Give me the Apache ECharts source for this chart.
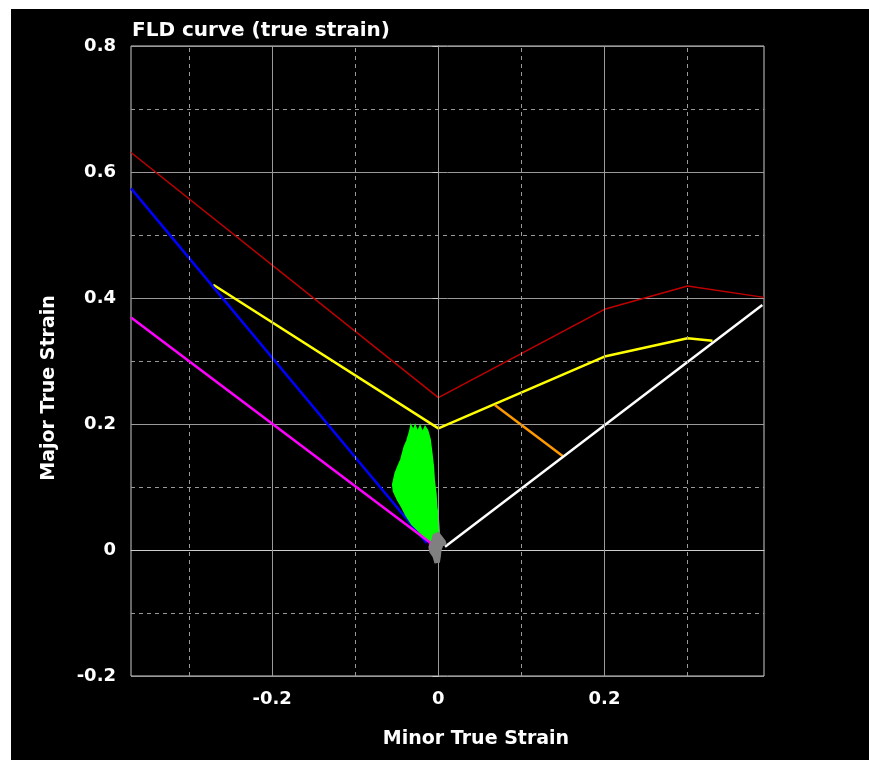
<!DOCTYPE html>
<html>
<head>
<meta charset="utf-8" />
<title>FLD curve</title>
<style>
  html, body { margin: 0; padding: 0; background: #ffffff; }
  #main { position: absolute; left: 11px; top: 9px; width: 858px; height: 751px; background: #000000; }
</style>
</head>
<body>
<div id="main"></div>
<script src="https://cdn.jsdelivr.net/npm/echarts@6/dist/echarts.min.js"></script>
<script>
// axis labels / grid positions
var xTicks = [-0.2, 0, 0.2];
var xMinorLines = [-0.3, -0.1, 0.1, 0.3];

// curves, [minor, major]
var redLimit = [[-0.37, 0.631], [0, 0.242], [0.2, 0.382], [0.3, 0.419], [0.392, 0.401]];
var yellowFld = [[-0.271, 0.421], [0, 0.193], [0.2, 0.307], [0.3, 0.336], [0.309, 0.335], [0.33, 0.332]];
var orangeLine = [[0.068, 0.23], [0.15, 0.149]];
var whiteLine = [[0.008, 0.005], [0.39, 0.389]];
var blueLine = [[-0.37, 0.574], [-0.014, 0.011]];
var magentaLine = [[-0.37, 0.369], [-0.01, 0.012], [-0.01, 0]];

// outline of the measured point clouds
var greenCloud = [
  [-0.033, 0.198], [-0.030, 0.190], [-0.028, 0.198], [-0.025, 0.188], [-0.022, 0.197],
  [-0.019, 0.187], [-0.016, 0.196], [-0.013, 0.190], [-0.010, 0.176], [-0.008, 0.155],
  [-0.006, 0.132], [-0.005, 0.111], [-0.003, 0.090], [-0.002, 0.069], [0.000, 0.048],
  [0.001, 0.029], [-0.001, 0.018], [-0.008, 0.010], [-0.014, 0.018], [-0.022, 0.028],
  [-0.032, 0.041], [-0.039, 0.055], [-0.044, 0.068], [-0.049, 0.079], [-0.054, 0.093],
  [-0.055, 0.104], [-0.052, 0.122], [-0.048, 0.135], [-0.045, 0.144], [-0.041, 0.164],
  [-0.038, 0.173], [-0.035, 0.186]
];
var grayCloud = [
  [-0.006, 0.024], [0.000, 0.028], [0.004, 0.021], [0.008, 0.014], [0.009, 0.009],
  [0.005, 0.007], [0.003, 0.000], [0.002, -0.011], [0.001, -0.019], [-0.004, -0.020],
  [-0.006, -0.011], [-0.010, -0.003], [-0.011, 0.005], [-0.008, 0.014]
];

var chart = echarts.init(document.getElementById('main'), null, { renderer: 'canvas' });

var labelFont = { color: '#ffffff', fontFamily: 'DejaVu Sans', fontWeight: 'bold', fontSize: 18 };
var gridColor = '#9a9a9a';

function lineSeries(data, color, width, z) {
  return {
    type: 'line', data: data, symbol: 'none', z: z, animation: false,
    lineStyle: { color: color, width: width }
  };
}

function cloudSeries(pts, color, z) {
  return {
    type: 'custom', data: [pts[0]], z: z, animation: false, clip: true,
    renderItem: function (params, api) {
      return {
        type: 'polygon',
        shape: { points: pts.map(function (p) { return api.coord(p); }) },
        style: { fill: color, stroke: color, lineWidth: 1.5 }
      };
    }
  };
}

var option = {
  backgroundColor: '#000000',
  animation: false,
  title: {
    text: 'FLD curve (true strain)',
    left: 121, top: 12, padding: 0,
    textStyle: { color: '#ffffff', fontFamily: 'DejaVu Sans', fontWeight: 'bold', fontSize: 20 }
  },
  grid: {
    left: 120, right: 105, top: 37, bottom: 84,
    show: true, borderColor: '#cccccc', borderWidth: 1
  },
  xAxis: {
    type: 'value', min: -0.37, max: 0.392,
    name: 'Minor True Strain', nameLocation: 'middle', nameGap: 54,
    nameTextStyle: { color: '#ffffff', fontFamily: 'DejaVu Sans', fontWeight: 'bold', fontSize: 19, padding: [0, 0, 0, 57] },
    axisLine: { lineStyle: { color: '#cccccc', width: 1 } },
    axisTick: { show: true, length: 6, customValues: xTicks, lineStyle: { color: '#cccccc' } },
    axisLabel: Object.assign({ margin: 14, customValues: xTicks }, labelFont),
    splitLine: { show: false }
  },
  yAxis: {
    type: 'value', min: -0.2, max: 0.8, interval: 0.2,
    name: 'Major True Strain', nameLocation: 'middle', nameGap: 72,
    nameTextStyle: { color: '#ffffff', fontFamily: 'DejaVu Sans', fontWeight: 'bold', fontSize: 19, padding: [0, 54, 0, 0] },
    axisLine: { show: true, lineStyle: { color: '#cccccc', width: 1 } },
    axisTick: { show: true, length: 6, lineStyle: { color: '#cccccc' } },
    axisLabel: Object.assign({ margin: 15 }, labelFont),
    splitLine: { show: true, lineStyle: { color: gridColor, width: 1 } },
    minorTick: { show: false, splitNumber: 2 },
    minorSplitLine: { show: true, lineStyle: { color: gridColor, width: 1, type: [4, 4] } }
  },
  series: [
    {
      type: 'line', data: [], z: 1, silent: true,
      markLine: {
        silent: true, symbol: 'none', animation: false, label: { show: false },
        data: xTicks.map(function (v) {
          return { xAxis: v, lineStyle: { color: gridColor, width: 1, type: 'solid' } };
        }).concat(xMinorLines.map(function (v) {
          return { xAxis: v, lineStyle: { color: gridColor, width: 1, type: [4, 4] } };
        }))
      }
    },
    lineSeries(redLimit, '#c00000', 1.5, 3),
    lineSeries(yellowFld, '#ffff00', 2.5, 3),
    lineSeries(orangeLine, '#ff9900', 2.5, 3),
    lineSeries(whiteLine, '#ffffff', 2.5, 3),
    lineSeries(blueLine, '#0000ff', 2.5, 3),
    cloudSeries(greenCloud, '#00ff00', 4),
    lineSeries(magentaLine, '#ff00ff', 2.5, 5),
    cloudSeries(grayCloud, '#808080', 6)
  ]
};

chart.setOption(option);
</script>
</body>
</html>
